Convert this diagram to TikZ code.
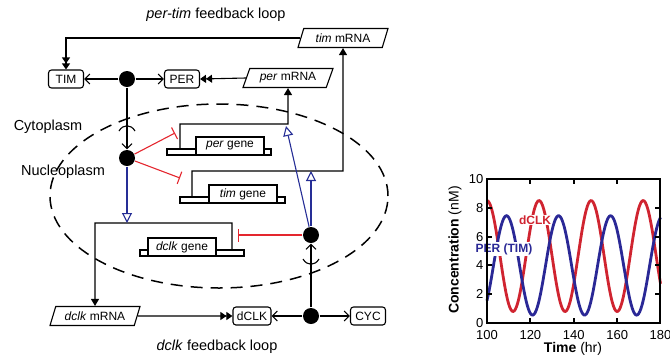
\documentclass[tikz,border=0pt]{standalone}
\usepackage{fontspec}
\setmainfont{Liberation Sans}
\setsansfont{Liberation Sans}
\usepackage{xcolor}
\usetikzlibrary{shapes,arrows.meta}

\definecolor{inhred}{RGB}{228,38,46}
\definecolor{actblue}{RGB}{38,46,150}
\definecolor{plotred}{RGB}{208,36,48}
\definecolor{plotblue}{RGB}{42,40,150}

\newcommand{\nodefont}{\fontsize{12}{14}\selectfont}
\newcommand{\lblfont}{\fontsize{14.5}{17}\selectfont}

\begin{document}
\begin{tikzpicture}[x=1pt, y=-1pt, line width=1.1pt,
    prot/.style={draw, rounded corners=3pt, minimum height=18pt, minimum width=35pt, inner xsep=4pt, font=\nodefont},
    mrna/.style={draw, trapezium, trapezium left angle=62, trapezium right angle=118, trapezium stretches body, minimum width=90pt, minimum height=19pt, inner sep=1pt, font=\nodefont},
    gene/.style={draw, fill=white, minimum height=18pt, minimum width=68pt, inner sep=0pt, font=\nodefont},
    cpx/.style={circle, fill=black, minimum size=16pt, inner sep=0pt},
    bind/.style={-{Straight Barb[length=5pt,width=10pt]}},
    transl/.style={-{Triangle[length=6pt,width=8pt]Triangle[length=6pt,width=8pt]}},
    transc/.style={-{Triangle[length=7pt,width=8pt]}},
    act/.style={actblue, -{Triangle[open,length=10pt,width=10pt]}},
    inh/.style={inhred, -{Bar[width=13pt]}},
    lbl/.style={font=\lblfont}]

  \useasboundingbox (0,0) rectangle (670,360);

  % compartments
  \draw[dash pattern=on 12pt off 8pt, line width=1.5pt] (219,196) ellipse [x radius=169pt, y radius=92pt];
  \node[lbl] (cytolbl) at (48,127) {Cytoplasm};
  \node[lbl] (nuclbl) at (63,172) {Nucleoplasm};
  \node[lbl] (toplbl) at (216,15) {\textit{per-tim} feedback loop};
  \node[lbl] (botlbl) at (217,347) {\textit{dclk} feedback loop};

  % proteins and mRNAs
  \node[prot] (tim) at (66,79) {TIM};
  \node[prot] (per) at (182,79) {PER};
  \node[cpx] (cdot) at (127,79) {};
  \node[mrna] (permrna) at (288,78) {\textit{per} mRNA};
  \node[mrna] (timmrna) at (343,38) {\textit{tim} mRNA};
  \node[cpx] (ndot1) at (127,158) {};
  \node[cpx] (ndot2) at (311,235) {};
  \node[cpx] (bdot) at (311,316) {};
  \node[mrna] (dclkmrna) at (95,316) {\textit{dclk} mRNA};
  \node[prot] (dclk) at (252,316) {dCLK};
  \node[prot] (cyc) at (368,316) {CYC};

  % genes
  \draw (167,149) rectangle (271,155);
  \node[gene] (pergene) at (230,146) {\textit{per} gene};
  \draw (180,197) rectangle (285,203);
  \node[gene] (timgene) at (243,194) {\textit{tim} gene};
  \draw (140,250) rectangle (244,256);
  \node[gene] (dclkgene) at (182,247) {\textit{dclk} gene};

  \coordinate (perp) at (180,149);
  \coordinate (perbend) at (288,124);
  \coordinate (timp) at (192,197);
  \coordinate (timbend) at (343,171);
  \coordinate (dclkp) at (232,250);
  \coordinate (dclkbend) at (95,223);
  \coordinate (peract) at (286,126);
  \coordinate (timact) at (311,171);
  \coordinate (dclkact) at (127,223);
  \coordinate (perinh) at (175,133);
  \coordinate (timinh) at (180,178);
  \coordinate (dclkinh) at (238,235);

  % transcription
  \draw[transc] (perp) |- (perbend) -- (permrna.south);
  \draw[transc] (timp) |- (timbend) -- (timmrna.south);
  \draw[transc] (dclkp) |- (dclkbend) -- (dclkmrna.north);

  % translation
  \draw[transl] (timmrna.west) -| (tim.north);
  \draw[transl] (permrna.west) -- (per.east);
  \draw[transl] (dclkmrna.east) -- (dclk.west);

  % complexes
  \draw[bind] (cdot) -- (tim.east);
  \draw[bind] (cdot) -- (per.west);
  \draw[bind] (cdot) -- (ndot1);
  \draw[bind] (bdot) -- (dclk.east);
  \draw[bind] (bdot) -- (cyc.west);
  \draw[bind] (bdot) -- (ndot2);
  \draw (119,131) .. controls (123,124) and (131,124) .. (135,131);
  \draw (303,259) .. controls (307,266) and (315,266) .. (319,259);

  % regulation
  \draw[inh] (ndot1) -- (perinh);
  \draw[inh] (ndot1) -- (timinh);
  \draw[inh] (ndot2) -- (dclkinh);
  \draw[act] (ndot1) -- (dclkact);
  \draw[act] (ndot2) -- (timact);
  \draw[act] (ndot2) -- (peract);

  % time course
  \draw[plotred, line width=2.8pt] plot[domain=100:180, samples=160, smooth]
    ({487+2.169*(\x-100)}, {323-14.4*(4.65+3.85*cos(15*(\x-124)))});
  \draw[plotblue, line width=2.8pt] plot[domain=100:180, samples=160, smooth]
    ({487+2.169*(\x-100)}, {323-14.4*(4.0+3.45*cos(15*(\x-109)))});
  \node[plotred, fill=white, inner sep=1pt, font=\bfseries\fontsize{12}{13}\selectfont] (dclklbl) at (535,220) {dCLK};
  \node[plotblue, fill=white, inner sep=1pt, font=\bfseries\fontsize{12}{13}\selectfont] (perlbl) at (504,249) {PER (TIM)};
  \draw[line width=2.4pt] (487,179) rectangle (660,323);
  \foreach \t in {120,140,160} {
    \draw[line width=2pt] ({487+2.169*(\t-100)},323) -- ++(0,-5);
    \draw[line width=2pt] ({487+2.169*(\t-100)},179) -- ++(0,5);
  }
  \foreach \v in {2,4,6,8} {
    \draw[line width=2pt] (487,{323-14.4*\v}) -- ++(5,0);
    \draw[line width=2pt] (660,{323-14.4*\v}) -- ++(-5,0);
  }
  \foreach \t in {100,120,...,180}
    \node[font=\fontsize{13}{15}\selectfont, inner sep=0pt] at ({487+2.169*(\t-100)},335) {\t};
  \foreach \v in {0,2,...,10}
    \node[anchor=east, font=\fontsize{13}{15}\selectfont, inner sep=0pt] at (484,{323-14.4*\v}) {\v};
  \node[rotate=90, font=\fontsize{14}{16}\selectfont] (ylbl) at (455,250) {\textbf{Concentration} (nM)};
  \node[font=\fontsize{14}{16}\selectfont] (xlbl) at (573,349) {\textbf{Time} (hr)};
\end{tikzpicture}
\end{document}
